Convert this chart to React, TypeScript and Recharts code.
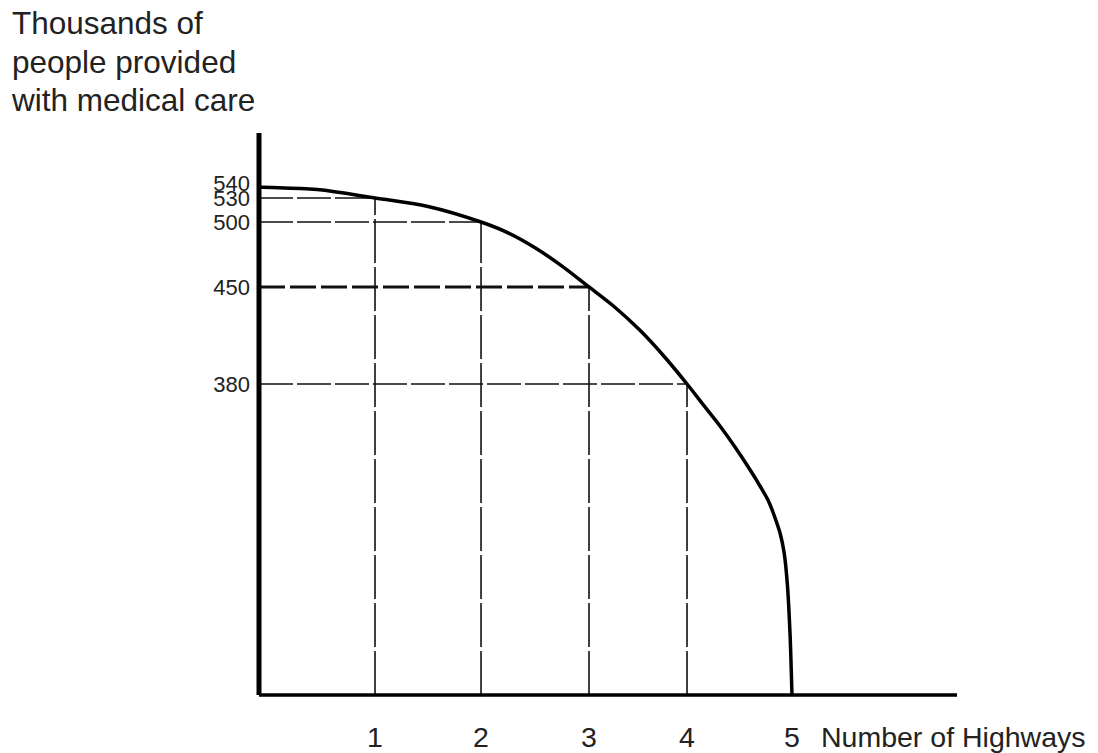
import React from 'react';
import { LineChart, Line, XAxis, YAxis, ReferenceLine } from 'recharts';

// Values
const highways = [0, 1, 2, 3, 4, 5];
const medicalCare = [540, 530, 500, 450, 380, 0];

// Readings along the drawn frontier (includes the labelled points)
const curveX = [
  0, 0.5, 1, 1.5, 2, 2.25, 2.5, 2.75, 3, 3.255, 3.52, 3.765, 4, 4.152, 4.314, 4.457, 4.571, 4.676, 4.771, 4.829,
  4.886, 4.924, 4.955, 4.981, 5,
];
const curveY = [
  540, 537.7, 530, 519.4, 500, 491.7, 480.2, 466.1, 450, 435.9, 418.7, 400, 380, 355.1, 328.7, 303, 281, 259.5, 238.3,
  219.9, 197.9, 174.7, 136.8, 75.8, 0,
];

const xTicks = [1, 2, 3, 4, 5];
const yTicks = [540, 530, 500, 450, 380];

const xDomain = [0, 6.5];
const yDomain = [0, 590];

// The hand-drawn axes are not to scale: piecewise scale knots (value -> share of axis length)
const xScaleKnots = [0, 1, 2, 3, 4, 5, 6.5];
const xScaleStops = [0, 0.1662, 0.3181, 0.4728, 0.6132, 0.7636, 1];
const yScaleKnots = [0, 380, 450, 500, 530, 540, 590];
const yScaleStops = [0, 0.5534, 0.726, 0.8416, 0.8843, 0.9039, 1];

const titleLines = ['Thousands of', 'people provided', 'with medical care'];
const xAxisTitle = 'Number of Highways';

function createPiecewiseScale(knots: number[], stops: number[]) {
  const F = (v: number) => {
    const n = knots.length;
    let i = 0;
    if (v <= knots[0]) i = 0;
    else if (v >= knots[n - 1]) i = n - 2;
    else {
      while (i < n - 2 && v > knots[i + 1]) i++;
    }
    const t = (v - knots[i]) / (knots[i + 1] - knots[i]);
    return stops[i] + t * (stops[i + 1] - stops[i]);
  };
  const Finv = (f: number) => {
    const n = stops.length;
    let i = 0;
    if (f <= stops[0]) i = 0;
    else if (f >= stops[n - 1]) i = n - 2;
    else {
      while (i < n - 2 && f > stops[i + 1]) i++;
    }
    const t = (f - stops[i]) / (stops[i + 1] - stops[i]);
    return knots[i] + t * (knots[i + 1] - knots[i]);
  };
  const make = (dom: number[], rng: number[]): any => {
    const s: any = (v: number) => {
      const f0 = F(Number(dom[0]));
      const f1 = F(Number(dom[dom.length - 1]));
      const t = (F(Number(v)) - f0) / (f1 - f0);
      return rng[0] + t * (rng[rng.length - 1] - rng[0]);
    };
    s.domain = (d?: any[]) => {
      if (d === undefined) return dom.slice();
      dom = d.map(Number);
      return s;
    };
    s.range = (r?: any[]) => {
      if (r === undefined) return rng.slice();
      rng = r.map(Number);
      return s;
    };
    s.invert = (px: number) => {
      const f0 = F(Number(dom[0]));
      const f1 = F(Number(dom[dom.length - 1]));
      const t = (px - rng[0]) / (rng[rng.length - 1] - rng[0]);
      return Finv(f0 + t * (f1 - f0));
    };
    s.ticks = () => knots.filter((k) => k >= dom[0] && k <= dom[dom.length - 1]);
    s.tickFormat = () => (v: number) => String(v);
    s.clamp = () => s;
    s.nice = () => s;
    s.copy = () => make(dom.slice(), rng.slice());
    return s;
  };
  return make([knots[0], knots[knots.length - 1]], [0, 1]);
}

// Centripetal Catmull-Rom curve factory (d3 curve interface) for a smooth hand-drawn look
const smoothCurve: any = (context: any) => {
  let pts: number[][] = [];
  return {
    areaStart() {},
    areaEnd() {},
    lineStart() {
      pts = [];
    },
    point(x: number, y: number) {
      pts.push([+x, +y]);
    },
    lineEnd() {
      if (!pts.length) return;
      context.moveTo(pts[0][0], pts[0][1]);
      const dist = (a: number[], b: number[]) => Math.hypot(b[0] - a[0], b[1] - a[1]);
      for (let i = 0; i < pts.length - 1; i++) {
        const p1 = pts[i];
        const p2 = pts[i + 1];
        const p0 = pts[i - 1] || p1;
        const p3 = pts[i + 2] || p2;
        const d1 = Math.sqrt(dist(p0, p1));
        const d2 = Math.sqrt(dist(p1, p2));
        const d3 = Math.sqrt(dist(p2, p3));
        let c1x: number, c1y: number, c2x: number, c2y: number;
        if (d1 > 1e-6) {
          const a = 2 * d1 * d1 + 3 * d1 * d2 + d2 * d2;
          const n = 3 * d1 * (d1 + d2);
          c1x = (d1 * d1 * p2[0] - d2 * d2 * p0[0] + a * p1[0]) / n;
          c1y = (d1 * d1 * p2[1] - d2 * d2 * p0[1] + a * p1[1]) / n;
        } else {
          c1x = p1[0] + (p2[0] - p1[0]) / 3;
          c1y = p1[1] + (p2[1] - p1[1]) / 3;
        }
        if (d3 > 1e-6) {
          const b = 2 * d3 * d3 + 3 * d3 * d2 + d2 * d2;
          const m = 3 * d3 * (d3 + d2);
          c2x = (d3 * d3 * p1[0] - d2 * d2 * p3[0] + b * p2[0]) / m;
          c2y = (d3 * d3 * p1[1] - d2 * d2 * p3[1] + b * p2[1]) / m;
        } else {
          c2x = p2[0] - (p2[0] - p1[0]) / 3;
          c2y = p2[1] - (p2[1] - p1[1]) / 3;
        }
        context.bezierCurveTo(c1x, c1y, c2x, c2y, p2[0], p2[1]);
      }
    },
  };
};

const xScale = createPiecewiseScale(xScaleKnots, xScaleStops);
const yScale = createPiecewiseScale(yScaleKnots, yScaleStops);

const curveData = curveX.map((x, i) => ({ x, y: curveY[i] }));

const FONT = '"Liberation Sans", Arial, Helvetica, sans-serif';

const YTick = (props: any) => {
  const { x, y, payload } = props;
  const nudge = payload.value === 540 ? -4 : 0;
  return (
    <text x={x} y={y + nudge} dy="0.355em" textAnchor="end" fill="#222" fontSize={22} fontFamily={FONT}>
      {payload.value}
    </text>
  );
};

export default function App() {
  const guideIdx = [1, 2, 3, 4];
  return (
    <div style={{ position: 'absolute', left: 0, top: 0, width: 1098, height: 753, background: '#fff', fontFamily: FONT }}>
      <div style={{ position: 'absolute', left: 12, top: 4, fontSize: 31.5, lineHeight: '38.5px', color: '#222' }}>
        {titleLines.map((t) => (
          <div key={t}>{t}</div>
        ))}
      </div>
      <div style={{ position: 'absolute', left: 821, top: 723, fontSize: 28.5, lineHeight: '29px', color: '#222', whiteSpace: 'nowrap' }}>
        {xAxisTitle}
      </div>
      <LineChart
        width={1098}
        height={753}
        data={curveData}
        margin={{ top: 133, right: 141, bottom: 0, left: 0 }}
        style={{ position: 'absolute', left: 0, top: 0 }}
      >
        <XAxis
          type="number"
          dataKey="x"
          domain={xDomain}
          scale={xScale}
          ticks={xTicks}
          interval={0}
          allowDataOverflow
          height={58}
          axisLine={{ stroke: '#000', strokeWidth: 3.5 }}
          tickLine={false}
          tickSize={0}
          tickMargin={32}
          tick={{ fill: '#222', fontSize: 28.5, fontFamily: FONT }}
        />
        <YAxis
          type="number"
          dataKey="y"
          domain={yDomain}
          scale={yScale}
          ticks={yTicks}
          interval={0}
          allowDataOverflow
          width={259}
          axisLine={{ stroke: '#000', strokeWidth: 5 }}
          tickLine={false}
          tickSize={0}
          tickMargin={9}
          tick={<YTick />}
        />
        {guideIdx.map((i) => (
          <ReferenceLine
            key={`h${i}`}
            segment={[
              { x: 0, y: medicalCare[i] },
              { x: highways[i], y: medicalCare[i] },
            ]}
            stroke="#111"
            strokeWidth={medicalCare[i] === 450 ? 3 : 1.6}
            strokeDasharray={medicalCare[i] === 450 ? '26 5' : '34 4'}
          />
        ))}
        {guideIdx.map((i) => (
          <ReferenceLine
            key={`v${i}`}
            segment={[
              { x: highways[i], y: 0 },
              { x: highways[i], y: medicalCare[i] },
            ]}
            stroke="#111"
            strokeWidth={1.6}
            strokeDasharray="44 4"
          />
        ))}
        <Line
          type={smoothCurve}
          dataKey="y"
          stroke="#000"
          strokeWidth={3.5}
          dot={false}
          activeDot={false}
          isAnimationActive={false}
        />
      </LineChart>
    </div>
  );
}
